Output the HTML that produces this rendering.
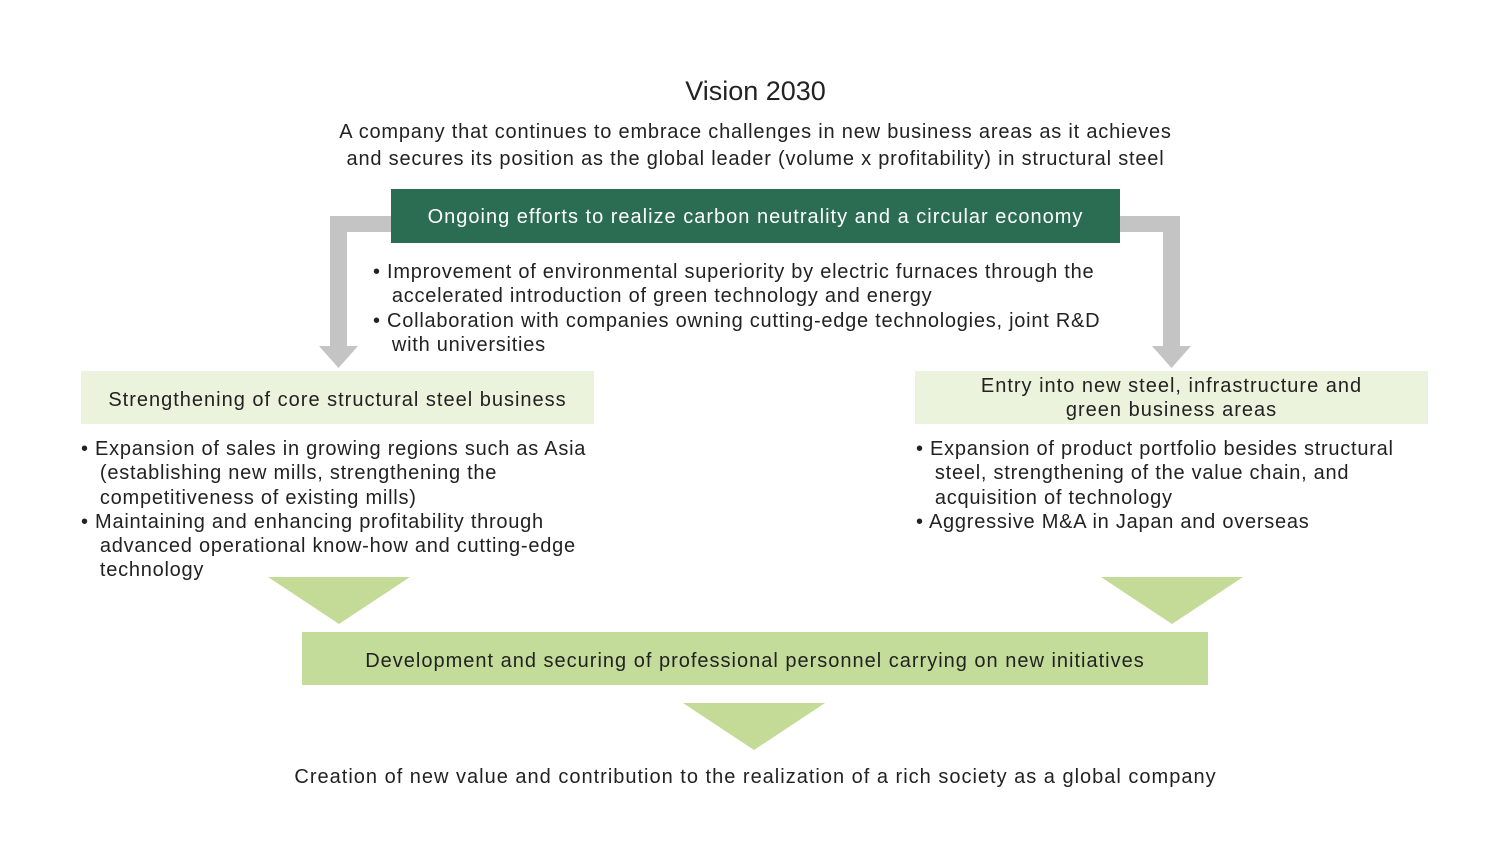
<!DOCTYPE html>
<html><head><meta charset="utf-8"><style>
body{margin:0;width:1511px;height:860px;background:#fff;position:relative;overflow:hidden;font-family:"Liberation Sans",sans-serif;color:#222}
.a{position:absolute}
.c{text-align:center}
.t{font-size:20px;line-height:24.3px;letter-spacing:0.75px}
.s{letter-spacing:1px}
</style></head><body>
<svg class="a" style="left:0;top:0" width="1511" height="860">
<rect x="330" y="216" width="62" height="16" fill="#c4c4c4"/>
<rect x="330" y="216" width="17" height="132" fill="#c4c4c4"/>
<polygon points="319,346 358,346 338.5,368" fill="#c4c4c4"/>
<rect x="1118" y="216" width="62" height="16" fill="#c4c4c4"/>
<rect x="1163" y="216" width="17" height="132" fill="#c4c4c4"/>
<polygon points="1152,346 1191,346 1171.5,368" fill="#c4c4c4"/>
<polygon points="268,577 410,577 339,624" fill="#c3db97"/>
<polygon points="1101,577 1243,577 1172,624" fill="#c3db97"/>
<polygon points="683,703 825,703 754,750" fill="#c3db97"/>
</svg>
<div class="a c" style="left:0;width:1511px;top:76px;font-size:27px;line-height:30px">Vision 2030</div>
<div class="a c" style="left:0;width:1511px;top:119px;line-height:27px;font-size:20px;letter-spacing:0.8px">A company that continues to embrace challenges in new business areas as it achieves<br>and secures its position as the global leader (volume x profitability) in structural steel</div>
<div class="a c s" style="left:391px;top:189px;width:729px;height:54px;background:#2a6d53;color:#fff;font-size:20px;line-height:56px">Ongoing efforts to realize carbon neutrality and a circular economy</div>
<div class="a t" style="left:373px;top:260px;width:800px">• Improvement of environmental superiority by electric furnaces through the<br>&nbsp;&nbsp;&nbsp;accelerated introduction of green technology and energy<br>• Collaboration with companies owning cutting-edge technologies, joint R&amp;D<br>&nbsp;&nbsp;&nbsp;with universities</div>
<div class="a c s" style="left:81px;top:371px;width:513px;height:53px;background:#ebf3dc;font-size:20px;line-height:58px">Strengthening of core structural steel business</div>
<div class="a c s" style="left:915px;top:371px;width:513px;height:53px;background:#ebf3dc;font-size:20px;line-height:24px;padding-top:3px;box-sizing:border-box">Entry into new steel, infrastructure and<br>green business areas</div>
<div class="a t" style="left:81px;top:437px;width:600px">• Expansion of sales in growing regions such as Asia<br>&nbsp;&nbsp;&nbsp;(establishing new mills, strengthening the<br>&nbsp;&nbsp;&nbsp;competitiveness of existing mills)<br>• Maintaining and enhancing profitability through<br>&nbsp;&nbsp;&nbsp;advanced operational know-how and cutting-edge<br>&nbsp;&nbsp;&nbsp;technology</div>
<div class="a t" style="left:916px;top:437px;width:590px">• Expansion of product portfolio besides structural<br>&nbsp;&nbsp;&nbsp;steel, strengthening of the value chain, and<br>&nbsp;&nbsp;&nbsp;acquisition of technology<br>• Aggressive M&amp;A in Japan and overseas</div>
<div class="a c s" style="left:302px;top:632px;width:906px;height:53px;background:#c4dc99;font-size:20px;line-height:58px">Development and securing of professional personnel carrying on new initiatives</div>
<div class="a c s" style="left:0;width:1511px;top:764px;font-size:20px;line-height:26px">Creation of new value and contribution to the realization of a rich society as a global company</div>
</body></html>
